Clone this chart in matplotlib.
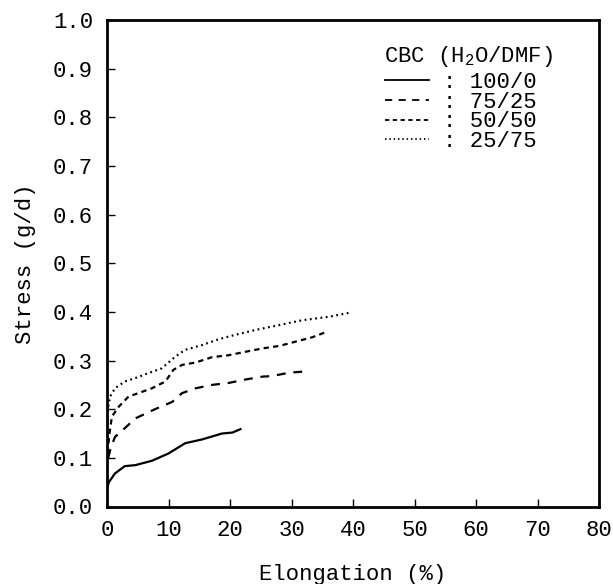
import numpy as np
import matplotlib
matplotlib.use("Agg")
import matplotlib.pyplot as plt
from matplotlib.lines import Line2D

plt.rcParams['font.family'] = ['Liberation Mono', 'DejaVu Sans Mono']
plt.rcParams['mathtext.fontset'] = 'custom'
plt.rcParams['mathtext.rm'] = 'Liberation Mono'

# stress-strain curves: elongation (%) and stress (g/d)
x_100 = [0.0, 0.3, 1.3, 2.9, 4.6, 7.3, 10.0, 12.7, 15.5, 18.7, 20.4, 21.7]
y_100 = [0.035, 0.050, 0.068, 0.083, 0.085, 0.094, 0.109, 0.130, 0.138, 0.150, 0.152, 0.159]

x_75 = [0.2, 0.6, 1.3, 2.9, 4.6, 7.8, 10.6, 12.2, 14.4, 17.1, 19.8, 22.5, 25.3, 26.8, 29.6, 32.6]
y_75 = [0.100, 0.120, 0.143, 0.161, 0.181, 0.200, 0.215, 0.233, 0.243, 0.250, 0.254, 0.261, 0.267, 0.268, 0.275, 0.278]

x_50 = [0.1, 0.4, 0.8, 1.9, 3.5, 5.1, 7.3, 9.5, 10.8, 12.2, 14.4, 17.1, 19.8, 22.5, 25.3, 28.0, 30.7, 33.4, 35.5]
y_50 = [0.110, 0.150, 0.185, 0.205, 0.226, 0.233, 0.243, 0.257, 0.281, 0.291, 0.296, 0.307, 0.311, 0.318, 0.325, 0.330, 0.339, 0.348, 0.358]

x_25 = [0.0, 0.1, 0.5, 1.3, 2.9, 4.6, 6.7, 8.9, 11.1, 12.7, 15.5, 18.2, 20.9, 24.2, 28.0, 31.8, 36.1, 39.7]
y_25 = [0.140, 0.198, 0.226, 0.243, 0.257, 0.264, 0.274, 0.284, 0.308, 0.322, 0.332, 0.344, 0.353, 0.363, 0.373, 0.383, 0.390, 0.399]

labels = [': 100/0', ': 75/25', ': 50/50', ': 25/75']
styles = ['-', (0, (4, 3.5)), (0, (2.4, 1.9)), (0, (0.8, 1.6))]

fig = plt.figure(figsize=(6.13, 5.84), dpi=100)
ax = fig.add_axes([107 / 613, 1 - 506.5 / 584, (599 - 107) / 613, (506.5 - 20) / 584])

series = [(x_100, y_100), (x_75, y_75), (x_50, y_50), (x_25, y_25)]
handles = []
for (xs, ys), ls, lab in zip(series, styles, labels):
    ax.plot(xs, ys, color='black', linestyle=ls, linewidth=1.6)
    handles.append(Line2D([], [], color='black', linestyle=ls, linewidth=1.3, label=lab))

ax.set_xlim(0, 80)
ax.set_ylim(0, 1.0)
ax.set_xticks(np.arange(0, 81, 10))
ax.set_yticks(np.arange(0, 1.01, 0.1))
ax.set_yticklabels([f'{v:.1f}' for v in np.arange(0, 1.01, 0.1)])
ax.tick_params(direction='in', length=6, width=1, labelsize=16, top=False, right=False)
ax.tick_params(axis='x', pad=10)
ax.tick_params(axis='y', pad=10)

for s in ax.spines.values():
    s.set_linewidth(2.0)

ax.set_xlabel('Elongation (%)', fontsize=16, labelpad=16)
ax.set_ylabel('Stress (g/d)', fontsize=16, labelpad=12)

ax.text(0.562, 0.926, 'CBC (H$_2$O/DMF)', transform=ax.transAxes, fontsize=16,
        ha='left', va='center')
ax.legend(handles=handles, loc='upper left', bbox_to_anchor=(0.565, 0.893),
          frameon=False, fontsize=16, handlelength=2.0, handletextpad=0.6,
          labelspacing=-0.06, borderaxespad=0, borderpad=0)

fig.savefig('out.png', dpi=100)
